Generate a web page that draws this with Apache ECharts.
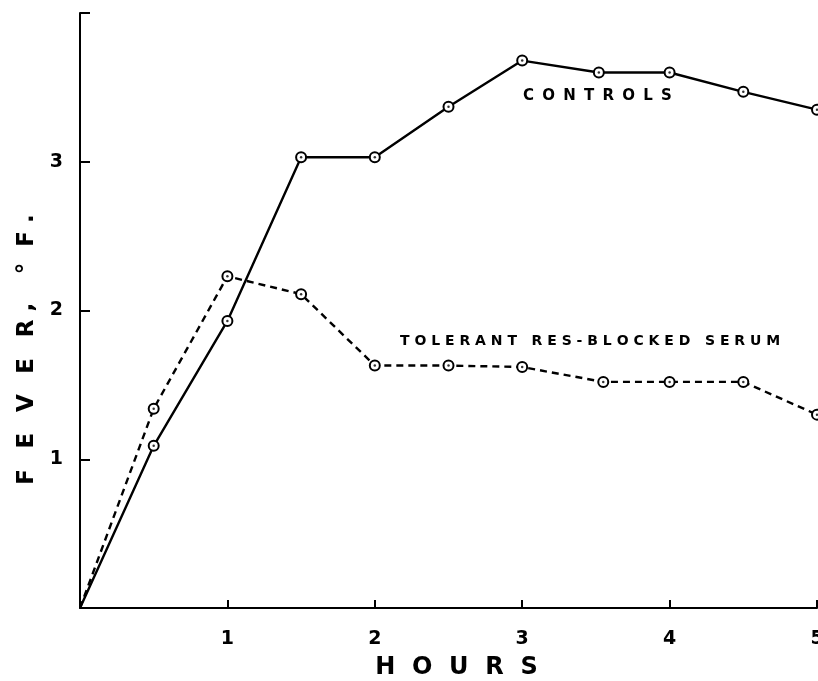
<!DOCTYPE html>
<html>
<head>
<meta charset="utf-8">
<script src="https://cdn.jsdelivr.net/npm/echarts@6/dist/echarts.min.js"></script>
<style>
  html, body { margin: 0; padding: 0; background: #fff; }
  #chart { width: 818px; height: 681px; }
</style>
</head>
<body>
<div id="chart"></div>
<script>
// hours after injection
const controlHours = [0, 0.5, 1, 1.5, 2, 2.5, 3, 3.52, 4, 4.5, 5]
const controlFever = [0, 1.09, 1.93, 3.03, 3.03, 3.37, 3.68, 3.6, 3.6, 3.47, 3.35]
const tolerantHours = [0, 0.5, 1, 1.5, 2, 2.5, 3, 3.55, 4, 4.5, 5]
const tolerantFever = [0, 1.34, 2.23, 2.11, 1.63, 1.63, 1.62, 1.52, 1.52, 1.52, 1.3]
const xTickLabels = ['1', '2', '3', '4', '5']
const yTickLabels = ['1', '2', '3']

const pairs = (xs, ys) => xs.map((x, i) => [x, ys[i]])
const font = 'DejaVu Sans'
// no ring at the origin
const ring = v => (v[0] === 0 ? 'none' : 'emptyCircle')

const chart = echarts.init(document.getElementById('chart'))
chart.setOption({
  animation: false,
  backgroundColor: '#fff',
  grid: { left: 80, right: 1, top: 13, bottom: 73, containLabel: false, outerBoundsMode: 'none' },
  xAxis: {
    type: 'value',
    min: 0,
    max: 5,
    interval: 1,
    splitLine: { show: false },
    axisLine: { lineStyle: { color: '#000', width: 2 } },
    axisTick: { inside: true, length: 8, lineStyle: { color: '#000', width: 2 } },
    axisLabel: {
      color: '#000',
      fontFamily: font,
      fontWeight: 'bold',
      fontSize: 19,
      margin: 22,
      showMaxLabel: true,
      formatter: v => (xTickLabels.includes(String(v)) ? String(v) : '')
    },
    name: 'H  O  U  R  S',
    nameLocation: 'middle',
    nameGap: 48,
    nameTextStyle: {
      color: '#000', fontFamily: font, fontWeight: 'bold', fontSize: 24,
      padding: [0, 0, 0, 16]
    }
  },
  yAxis: {
    type: 'value',
    min: 0,
    max: 4,
    interval: 1,
    splitLine: { show: false },
    axisLine: { lineStyle: { color: '#000', width: 2 } },
    axisTick: { inside: true, length: 10, lineStyle: { color: '#000', width: 2 } },
    axisLabel: {
      color: '#000',
      fontFamily: font,
      fontWeight: 'bold',
      fontSize: 19,
      margin: 17,
      formatter: v => (yTickLabels.includes(String(v)) ? String(v) : '')
    },
    name: 'F  \u2009E  \u2009V  \u2009E  \u2009R ,   \u2009°  F .',
    nameLocation: 'middle',
    nameGap: 40,
    nameTextStyle: {
      color: '#000', fontFamily: font, fontWeight: 'bold', fontSize: 23,
      padding: [0, 78, 0, 0]
    }
  },
  series: [{
    name: 'CONTROLS',
    type: 'line',
    data: pairs(controlHours, controlFever),
    symbol: ring,
    symbolSize: 10,
    showAllSymbol: true,
    itemStyle: { color: '#000', borderWidth: 1.6 },
    lineStyle: { color: '#000', width: 2.4 },
    z: 3
  }, {
    name: 'TOLERANT RES-BLOCKED SERUM',
    type: 'line',
    data: pairs(tolerantHours, tolerantFever),
    symbol: ring,
    symbolSize: 10,
    showAllSymbol: true,
    itemStyle: { color: '#000', borderWidth: 1.6 },
    lineStyle: { color: '#000', width: 2.4, type: [7, 5] },
    z: 3
  }, {
    // centre dots of the ringed markers
    type: 'scatter',
    data: pairs(controlHours, controlFever).slice(1).concat(pairs(tolerantHours, tolerantFever).slice(1)),
    symbol: 'circle',
    symbolSize: 2.5,
    itemStyle: { color: '#000' },
    z: 5
  }],
  graphic: [{
    type: 'text',
    left: 523,
    top: 89,
    style: {
      text: 'C \u2009O \u2009N \u2009T \u2009R \u2009O \u2009L \u2009S',
      fill: '#000',
      font: 'bold 15px "DejaVu Sans"'
    }
  }, {
    type: 'text',
    left: 400,
    top: 334,
    style: {
      text: 'T O L E R A N T   R E S ‑ B L O C K E D   S E R U M',
      fill: '#000',
      font: 'bold 14px "DejaVu Sans"'
    }
  }]
})
</script>
</body>
</html>
